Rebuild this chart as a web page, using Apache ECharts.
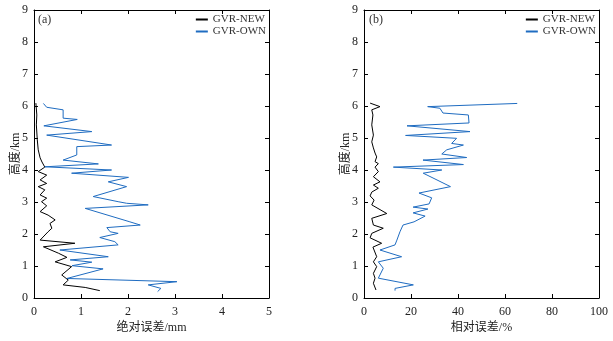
<!DOCTYPE html>
<html><head><meta charset="utf-8">
<script src="https://cdn.jsdelivr.net/npm/echarts@6/dist/echarts.min.js"></script>
<style>html,body{margin:0;padding:0;background:#fff}#c{width:613px;height:341px}</style>
</head><body><div id="c"></div>
<script>
// Panel (a): absolute error (mm) vs height (km)
var aNewH = [6.09,5.72,5.41,4.94,4.63,4.38,4.25,4.09,3.95,3.84,3.69,3.58,3.48,3.38,3.22,3.12,3.01,2.88,2.70,2.59,2.44,2.33,2.18,2.07,1.81,1.71,1.60,1.40,1.27,1.13,0.98,0.72,0.56,0.41,0.33,0.23];
var aNewV = [0.04,0.06,0.05,0.07,0.09,0.13,0.17,0.23,0.09,0.27,0.13,0.27,0.09,0.23,0.13,0.27,0.16,0.27,0.13,0.30,0.45,0.34,0.38,0.30,0.13,0.87,0.20,0.52,0.70,0.45,0.80,0.59,0.73,0.62,1.09,1.40];
var aOwnH = [6.08,5.96,5.88,5.62,5.58,5.38,5.20,5.09,4.78,4.73,4.47,4.31,4.19,4.10,4.00,3.90,3.77,3.63,3.48,3.17,3.01,2.96,2.91,2.80,2.38,2.28,2.20,2.07,2.02,1.89,1.76,1.66,1.50,1.29,1.19,1.12,1.01,0.91,0.61,0.51,0.41,0.30,0.20];
var aOwnV = [0.20,0.27,0.62,0.62,0.92,0.21,1.23,0.27,1.65,0.91,0.91,0.62,1.37,0.23,1.65,0.80,2.01,1.58,1.97,1.26,1.79,1.97,2.43,1.09,2.04,2.26,1.55,1.62,1.79,1.40,1.72,1.79,0.55,1.58,0.77,1.23,0.81,1.47,0.70,3.04,2.43,2.70,2.63];
// Panel (b): relative error (%) vs height (km)
var bNewH = [6.09,5.98,5.88,5.72,5.41,5.09,4.88,4.69,4.53,4.41,4.26,4.20,4.09,3.95,3.79,3.63,3.53,3.43,3.31,3.19,3.06,2.91,2.64,2.49,2.28,2.18,2.02,1.88,1.71,1.59,1.29,1.13,0.98,0.77,0.62,0.46,0.25];
var bNewV = [2.6,6.8,3.3,3.8,3.3,4.0,3.3,4.0,4.7,5.4,4.7,6.1,4.7,6.1,4.0,6.8,4.0,6.1,3.3,2.6,4.3,3.3,9.7,3.3,4.0,8.2,3.3,2.6,7.5,3.8,5.4,4.0,5.4,4.0,4.7,4.0,5.1];
var bOwnH = [6.08,5.98,5.93,5.78,5.72,5.47,5.38,5.20,5.08,4.99,4.83,4.78,4.63,4.50,4.39,4.31,4.17,4.09,4.00,3.90,3.72,3.48,3.28,3.13,2.94,2.84,2.78,2.66,2.56,2.38,2.28,2.07,1.81,1.66,1.50,1.29,1.13,0.93,0.62,0.41,0.30,0.23];
var bOwnV = [65.2,27.1,32.3,33.6,44.4,44.7,18.3,45.1,17.7,39.4,37.3,42.3,35.2,33.1,43.7,25.1,42.3,12.5,33.1,25.2,30.2,36.8,23.4,28.8,27.7,20.9,27.2,20.9,26.0,21.3,16.6,15.3,14.0,13.2,6.8,16.0,6.1,8.2,6.1,21.0,13.2,13.2];
var seriesNames = ['GVR-NEW','GVR-OWN'];
var xTitles = ['绝对误差/mm','相对误差/%'];
var yTitle = '高度/km';
var panelTags = ['(a)','(b)'];

function pairs(v,h){return v.map(function(x,i){return [x,h[i]];});}
var FONT = '"Liberation Serif","Noto Sans CJK SC",serif';
var BLUE = '#1f6cc1';
var lab = {fontFamily:FONT,fontSize:12,color:'#222'};
var axLine = {show:true,onZero:false,lineStyle:{color:'#000',width:1}};
var tick = {show:true,inside:true,length:4,lineStyle:{color:'#000'}};

var grids = [{left:34,top:10,width:235,height:288},{left:364,top:10,width:235,height:288}];
var xAxes=[],yAxes=[];
var xMax=[5,100], xInt=[1,20];
for(var g=0;g<2;g++){
  xAxes.push({type:'value',gridIndex:g,min:0,max:xMax[g],interval:xInt[g],position:'bottom',
    axisLine:axLine,axisTick:tick,splitLine:{show:false},axisLabel:Object.assign({margin:8},lab),
    name:xTitles[g],nameLocation:'middle',nameGap:24,nameMoveOverlap:false,nameTextStyle:{fontFamily:FONT,fontSize:12,color:'#222'}});
  xAxes.push({type:'value',gridIndex:g,min:0,max:xMax[g],interval:xInt[g],position:'top',
    axisLine:axLine,axisTick:tick,splitLine:{show:false},axisLabel:{show:false}});
  yAxes.push({type:'value',gridIndex:g,min:0,max:9,interval:1,position:'left',
    axisLine:axLine,axisTick:tick,splitLine:{show:false},axisLabel:Object.assign({margin:6},lab),
    name:yTitle,nameLocation:'middle',nameGap:12,nameMoveOverlap:false,nameRotate:90,nameTextStyle:{fontFamily:FONT,fontSize:12,color:'#222'}});
  yAxes.push({type:'value',gridIndex:g,min:0,max:9,interval:1,position:'right',
    axisLine:axLine,axisTick:tick,splitLine:{show:false},axisLabel:{show:false}});
}
function ser(name,data,g,color){
  return {type:'line',name:name,xAxisIndex:g*2,yAxisIndex:g*2,data:data,showSymbol:false,symbol:'none',
    lineStyle:{color:color,width:1},itemStyle:{color:color},animation:false};
}
var series=[
  ser(seriesNames[0],pairs(aNewV,aNewH),0,'#000'),
  ser(seriesNames[1],pairs(aOwnV,aOwnH),0,BLUE),
  ser(seriesNames[0]+' ',pairs(bNewV,bNewH),1,'#000'),
  ser(seriesNames[1]+' ',pairs(bOwnV,bOwnH),1,BLUE)
];
function legend(right,names){
  return {right:right,top:14,orient:'vertical',itemGap:1,itemWidth:12,itemHeight:2,icon:'rect',
    data:names,textStyle:{fontFamily:FONT,fontSize:11,color:'#333'},formatter:function(n){return n.trim();},
    padding:0};
}
var chart = echarts.init(document.getElementById('c'),null,{renderer:'canvas'});
chart.setOption({
  animation:false,
  backgroundColor:'#fff',
  grid:grids,xAxis:xAxes,yAxis:yAxes,series:series,
  title:[
    {text:panelTags[0],left:38,top:14,textStyle:{fontFamily:FONT,fontSize:12,fontWeight:'normal',color:'#333'},padding:0},
    {text:panelTags[1],left:369,top:14,textStyle:{fontFamily:FONT,fontSize:12,fontWeight:'normal',color:'#333'},padding:0}
  ],
  legend:[legend(613-266,[seriesNames[0],seriesNames[1]]),legend(613-596,[seriesNames[0]+' ',seriesNames[1]+' '])]
});
</script></body></html>
